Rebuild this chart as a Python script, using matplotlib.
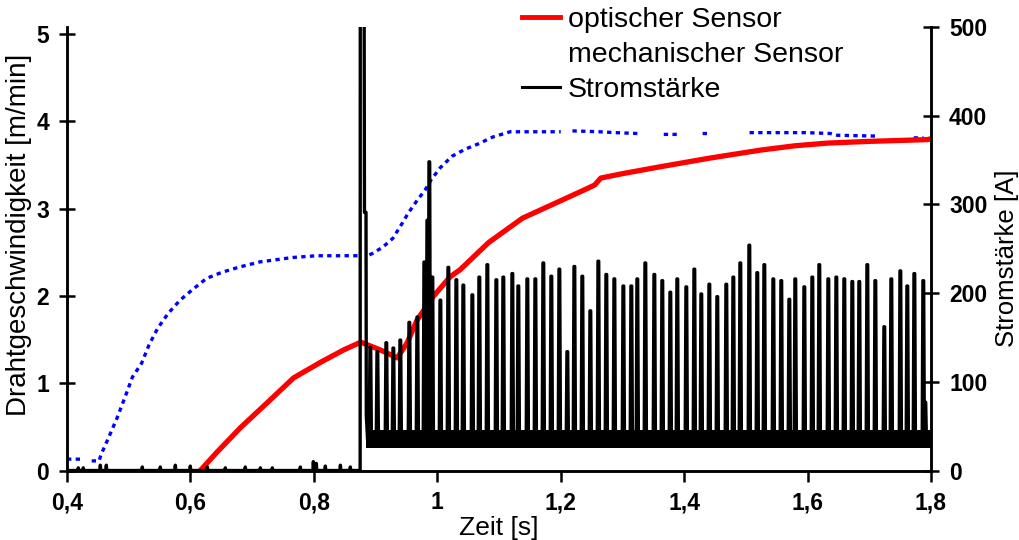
import numpy as np
import matplotlib
matplotlib.use('Agg')
import matplotlib.pyplot as plt
from matplotlib.lines import Line2D

plt.rcParams['font.family'] = ['Liberation Sans', 'DejaVu Sans']

# optischer Sensor (m/min)
opt_t = [0.616, 0.643, 0.681, 0.725, 0.767, 0.811, 0.848, 0.876, 0.908, 0.935,
         0.951, 0.967, 0.993, 1.021, 1.037, 1.083, 1.138, 1.203, 1.24, 1.255,
         1.265, 1.30, 1.362, 1.443, 1.524, 1.58, 1.632, 1.70, 1.794, 1.80]
opt_v = [0.0, 0.21, 0.49, 0.78, 1.06, 1.24, 1.38, 1.47, 1.38, 1.29,
         1.46, 1.72, 1.99, 2.22, 2.30, 2.61, 2.89, 3.10, 3.22, 3.27,
         3.35, 3.40, 3.48, 3.58, 3.67, 3.72, 3.75, 3.77, 3.79, 3.80]

# mechanischer Sensor (m/min), nan = gap in the recording
mech_t = [0.400, 0.422, np.nan, 0.440, 0.452, 0.455, 0.467, 0.481, 0.494, 0.506,
          0.521, 0.533, 0.547, 0.564, 0.583, 0.603, 0.626, 0.651, 0.679, 0.713,
          0.766, 0.805, 0.875, np.nan, 0.890, 0.896, 0.912, 0.928, 0.943, 0.953,
          0.968, 0.980, 0.990, 1.005, 1.024, 1.045, 1.066, 1.09, 1.118, 1.20,
          np.nan, 1.219, 1.263, 1.288, 1.325, np.nan, 1.367, 1.394, np.nan, 1.430,
          1.438, np.nan, 1.506, 1.597, 1.637, 1.648, 1.715, np.nan, 1.772, 1.788]
mech_v = [0.13, 0.13, np.nan, 0.11, 0.11, 0.18, 0.37, 0.60, 0.84, 1.07,
          1.23, 1.44, 1.63, 1.80, 1.95, 2.07, 2.20, 2.27, 2.33, 2.39,
          2.44, 2.46, 2.46, np.nan, 2.47, 2.49, 2.56, 2.66, 2.83, 2.95,
          3.10, 3.21, 3.33, 3.47, 3.60, 3.68, 3.74, 3.82, 3.88, 3.88,
          np.nan, 3.89, 3.88, 3.87, 3.86, np.nan, 3.85, 3.85, np.nan, 3.86,
          3.86, np.nan, 3.87, 3.87, 3.86, 3.84, 3.83, np.nan, 3.81, 3.81]

# Stromstaerke (A): small readings before ignition
pre_t = [0.4183, 0.4264, 0.454, 0.4637, 0.522, 0.5512, 0.5755, 0.5998, 0.6274, 0.6565,
         0.6889, 0.7133, 0.7327, 0.7781, 0.7992, 0.804, 0.8186, 0.843, 0.8591]
pre_v = [3, 3, 6, 6, 4, 4, 6, 5, 4, 3, 4, 3, 3, 4, 10, 8, 5, 6, 4]
# ignition peak
ign_t = [0.875, 0.8752, 0.8815, 0.882, 0.8845, 0.885, 0.887]
ign_v = [0, 520, 520, 291, 291, 62, 35]
# short-circuit peaks after ignition
peak_t = [0.8915, 0.9029, 0.9174, 0.9288, 0.9401, 0.9547, 0.9677, 0.9790, 0.9839, 0.9871,
          0.9920, 1.0050, 1.0179, 1.0309, 1.0422, 1.0568, 1.0681, 1.0811, 1.0957, 1.1070,
          1.1216, 1.1313, 1.1459, 1.1589, 1.1718, 1.1848, 1.1978, 1.2107, 1.2221, 1.2350,
          1.2480, 1.2610, 1.2739, 1.2869, 1.3015, 1.3144, 1.3241, 1.3371, 1.3517, 1.3646,
          1.3776, 1.3889, 1.4035, 1.4165, 1.4278, 1.4408, 1.4537, 1.4683, 1.4797, 1.4910,
          1.5056, 1.5185, 1.5299, 1.5445, 1.5574, 1.5704, 1.5801, 1.5947, 1.6077, 1.6190,
          1.6336, 1.6466, 1.6595, 1.6725, 1.6838, 1.6968, 1.7098, 1.7243, 1.7357, 1.7503,
          1.7616, 1.7730, 1.7875, 1.7908]
peak_v = [139, 134, 144, 138, 147, 167, 173, 235, 282, 348,
          218, 192, 229, 215, 209, 198, 218, 232, 215, 218,
          222, 208, 216, 216, 234, 219, 227, 134, 230, 219,
          180, 236, 221, 216, 208, 208, 216, 234, 221, 214,
          201, 216, 207, 227, 199, 210, 196, 210, 218, 234,
          254, 223, 232, 216, 214, 193, 216, 207, 218, 232,
          216, 218, 216, 213, 213, 232, 214, 162, 216, 225,
          208, 222, 214, 77]
base_level = 35
band_t = [0.885, 1.80]
band_lo = [25, 25]
band_hi = [46, 46]

# build the current trace
cur_t, cur_v = [0.4], [0]
for t, v in zip(pre_t, pre_v):
    cur_t += [t - 0.0008, t, t + 0.0008]
    cur_v += [0, v, 0]
cur_t += ign_t
cur_v += ign_v
for t, v in zip(peak_t, peak_v):
    cur_t += [t - 0.0018, t - 0.0006, t + 0.0006, t + 0.0018]
    cur_v += [base_level, v, v, base_level]
cur_t.append(1.8)
cur_v.append(base_level)

fig = plt.figure(figsize=(10.2, 5.4), dpi=100)
ax = fig.add_axes([67 / 1020, 1 - 470.5 / 540, 864 / 1020, 443.5 / 540])
ax2 = ax.twinx()

ax.plot(mech_t, mech_v, color='#0000ff', lw=2.4, ls=(0, (1.3, 1.3)), zorder=3)
ax.plot(opt_t, opt_v, color='#ff0000', lw=3.8, zorder=4)

ax2.fill_between(band_t, band_lo, band_hi, color='black', lw=0)
ax2.plot(cur_t, cur_v, color='black', lw=2.4)

ax.set_xlim(0.4, 1.8)
ax.set_ylim(0, 5.08)
ax2.set_ylim(0, 500)

xticks = [0.4, 0.6, 0.8, 1.0, 1.2, 1.4, 1.6, 1.8]
xtick_labels = ['0,4', '0,6', '0,8', '1', '1,2', '1,4', '1,6', '1,8']
ax.set_xticks(xticks)
ax.set_xticklabels(xtick_labels)
ax.set_yticks([0, 1, 2, 3, 4, 5])
ax2.set_yticks([0, 100, 200, 300, 400, 500])

for a in (ax, ax2):
    a.spines['top'].set_visible(False)
    for s in ('left', 'right', 'bottom'):
        a.spines[s].set_linewidth(1.8)
    a.tick_params(labelsize=16.5, width=1.8)
    for lab in a.get_xticklabels() + a.get_yticklabels():
        lab.set_fontweight('bold')
    a.set_facecolor('none')
ax.tick_params(axis='y', direction='inout', length=12, pad=7)
ax.tick_params(axis='x', direction='out', length=8, pad=7)
ax2.tick_params(axis='y', direction='inout', length=12, pad=7)

ax.set_xlabel('Zeit [s]', fontsize=19, labelpad=1)
ax.set_ylabel('Drahtgeschwindigkeit [m/min]', fontsize=20)
ax.yaxis.set_label_coords(-0.040, 0.531)
ax2.set_ylabel('Stromstärke [A]', fontsize=18.5)
ax2.yaxis.set_label_coords(1.074, 0.479)

handles = [Line2D([], [], color='#ff0000', lw=3.5),
           Line2D([], [], color='#0000ff', lw=0),
           Line2D([], [], color='black', lw=2.2)]
labels = ['optischer Sensor', 'mechanischer Sensor', 'Stromstärke']
fig.legend(handles, labels, loc='upper left', bbox_to_anchor=(522 / 1020, 1 - 7 / 540),
           frameon=False, fontsize=20.5, handlelength=1.35, handletextpad=0.27,
           labelspacing=0.32, borderpad=0, borderaxespad=0)

fig.savefig('out.png', dpi=100)
